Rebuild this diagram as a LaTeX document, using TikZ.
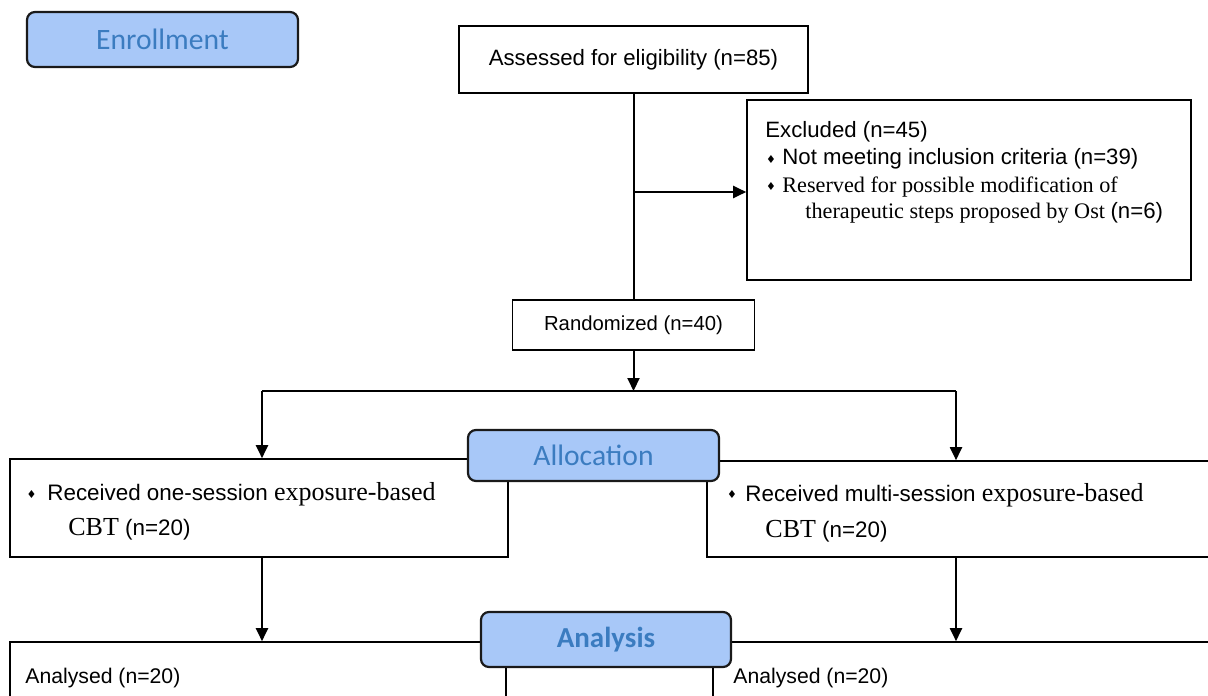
\documentclass[tikz,border=0pt]{standalone}
\usepackage{fontspec}
\setmainfont{Liberation Sans}
\newfontfamily\tnr{Liberation Serif}
\newfontfamily\hdrf{Carlito}
\newfontfamily\djv{DejaVu Sans}
\usetikzlibrary{arrows.meta}
\definecolor{hdrfill}{HTML}{A8C8F8}
\definecolor{hdrtext}{HTML}{3B7CC0}
\definecolor{hdrline}{HTML}{1A1A1A}
\newcommand{\bigtnr}[1]{{\tnr\fontsize{13}{15}\selectfont #1}}
\begin{document}
\begin{tikzpicture}[x=0.5pt,y=-0.5pt,
  box/.style={draw, line width=0.8pt, inner sep=0pt, fill=white},
  hdr/.style={draw=hdrline, line width=1.1pt, rounded corners=4pt, fill=hdrfill, inner sep=0pt, text=hdrtext, font=\hdrf\fontsize{14.8}{16}\selectfont},
  arr/.style={-{Triangle[length=6.5pt,width=6pt]}, line width=1pt},
  ln/.style={line width=1pt},
  txt/.style={inner sep=0pt, anchor=base west, font=\fontsize{11.1}{13}\selectfont},
  rtxt/.style={inner sep=0pt, anchor=base west, font=\fontsize{11.2}{14}\selectfont},
  bul/.style={inner sep=0pt, anchor=center, font=\djv\fontsize{5.5}{6}\selectfont}]
\useasboundingbox[fill=white] (0,0) rectangle (1208,695);
% boxes
\node[hdr, minimum width=135.5pt, minimum height=27.5pt] (enroll) at (162.5,39.5) {Enrollment};
\node[box, minimum width=174.5pt, minimum height=33.5pt, font=\fontsize{11.1}{13}\selectfont] (assessed) at (633.5,59.5) {Assessed for eligibility (n=85)};
\node[box, minimum width=222pt, minimum height=90pt] (excluded) at (969,190) {};
\node[box, minimum width=121pt, minimum height=25pt, font=\fontsize{10.15}{12}\selectfont] (random) at (633.5,325) {Randomized (n=40)};
\node[box, minimum width=249pt, minimum height=49pt] (recvL) at (259,508) {};
\node[box, minimum width=253.5pt, minimum height=48pt] (recvR) at (960.5,509) {};
\node[hdr, minimum width=125.5pt, minimum height=25.5pt] (alloc) at (593.5,455.5) {Allocation};
\node[box, minimum width=248pt, minimum height=39pt] (anL) at (258,681) {};
\node[box, minimum width=250.5pt, minimum height=39pt] (anR) at (963.5,681) {};
\node[hdr, minimum width=125pt, minimum height=27.5pt, font=\hdrf\bfseries\fontsize{14.5}{16}\selectfont] (analysis) at (606,639.5) {Analysis};
% excluded text
\node[txt] (ex1) at (765,138) {Excluded (n=45)};
\node[bul] (exb2) at (771,159) {♦};
\node[txt] (ex2) at (782,165) {Not meeting inclusion criteria (n=39)};
\node[bul] (exb3) at (771,186) {♦};
\node[txt] (ex3) at (782,192) {\tnr Reserved for possible modification of};
\node[txt] (ex4) at (805,219) {\tnr therapeutic steps proposed by Ost \rmfamily(n=6)};
% received text
\node[bul] (rlb) at (31.5,494) {♦};
\node[rtxt] (rl1) at (47,500) {Received one-session \bigtnr{exposure-based}};
\node[rtxt] (rl2) at (68,535) {\bigtnr{CBT} (n=20)};
\node[bul] (rrb) at (732,494) {♦};
\node[rtxt] (rr1) at (745,501) {Received multi-session \bigtnr{exposure-based}};
\node[rtxt] (rr2) at (765,537) {\bigtnr{CBT} (n=20)};
% analysed text
\node[txt, font=\fontsize{10.6}{13}\selectfont] (al) at (25,683) {Analysed (n=20)};
\node[txt, font=\fontsize{10.6}{13}\selectfont] (ar) at (733,683) {Analysed (n=20)};
% connectors
\coordinate (exbranch) at (633.5,192);
\coordinate (split) at (633.5,391);
\coordinate (splitL) at (262,391);
\coordinate (splitR) at (956,391);
\draw[ln] (assessed.south) -- (assessed.south |- random.north);
\draw[arr] (exbranch) -- (excluded.west |- exbranch);
\draw[arr] (random.south -| split) -- (split);
\draw[ln] (splitL) -- (splitR);
\draw[arr] (splitL) -- (splitL |- recvL.north);
\draw[arr] (splitR) -- (splitR |- recvR.north);
\draw[arr] (recvL.south -| splitL) -- (splitL |- anL.north);
\draw[arr] (recvR.south -| splitR) -- (splitR |- anR.north);
\end{tikzpicture}
\end{document}
